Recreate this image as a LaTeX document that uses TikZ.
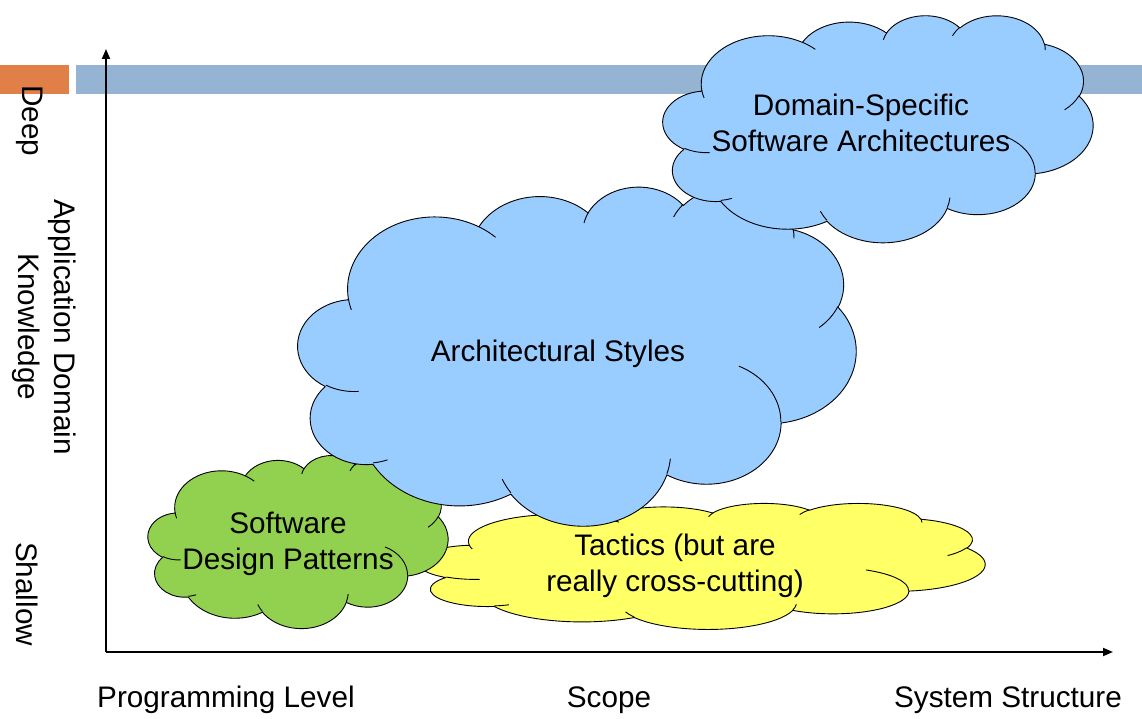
\documentclass[tikz,border=0pt]{standalone}
\usepackage{fontspec}
\setmainfont{Liberation Sans}
\usetikzlibrary{arrows.meta}
\definecolor{cloudblue}{RGB}{153,204,255}
\definecolor{cloudgreen}{RGB}{146,208,80}
\definecolor{cloudyellow}{RGB}{255,255,102}
\definecolor{barblue}{RGB}{149,179,210}
\definecolor{barorange}{RGB}{224,128,72}

% OOXML-style arcTo: x radius, y radius, start angle, sweep (visual angles)
\newcommand\ooArc[4]{%
  \pgfmathsetmacro\ooTA{atan2((#1)*sin(#3),(#2)*cos(#3))}%
  \pgfmathsetmacro\ooTB{atan2((#1)*sin((#3)+(#4)),(#2)*cos((#3)+(#4)))}%
  \pgfmathsetmacro\ooTE{\ooTA+mod(\ooTB-\ooTA+720,360)}%
  \pgfpatharc{\ooTA}{\ooTE}{#1pt and #2pt}%
}
% cloud: left, top, width, height, fill colour
\newcommand\ooCloud[5]{%
  \begin{pgfscope}%
  \pgfmathsetmacro\ooSX{(#3)/432}%
  \pgfmathsetmacro\ooSY{-(#4)/432}%
  \pgftransformshift{\pgfpoint{#1pt}{-#2pt}}%
  \pgftransformxscale{\ooSX}%
  \pgftransformyscale{\ooSY}%
  \pgfsetlinewidth{0.9pt}%
  \pgfsetroundjoin
  \pgfsetstrokecolor{black}%
  \pgfsetfillcolor{#5}%
  \pgfpathmoveto{\pgfpoint{39pt}{143.70pt}}%
  \ooArc{67.53}{91.90}{-190.4875}{123.7805}%
  \ooArc{53.33}{72.67}{-144.1024}{89.9452}%
  \ooArc{43.65}{59.45}{-145.8079}{99.7230}%
  \ooArc{48.57}{65.95}{-130.9861}{117.2417}%
  \ooArc{53.33}{72.73}{-78.7089}{109.0269}%
  \ooArc{67.75}{92.20}{-46.2673}{130.2690}%
  \ooArc{57.85}{78.67}{0.6250}{114.0333}%
  \ooArc{67.52}{92.15}{22.4516}{115.1726}%
  \ooArc{77.20}{105.43}{66.2426}{75.7110}%
  \ooArc{43.60}{59.18}{-274.9421}{146.7356}%
  \ooArc{43.45}{59.45}{-246.8285}{152.5189}%
  \pgfpathclose
  \pgfusepath{fill,stroke}%
  \pgfpathmoveto{\pgfpoint{46.93pt}{261.77pt}}\ooArc{43.45}{59.45}{86.7420}{26.4295}%
  \pgfpathmoveto{\pgfpoint{69.28pt}{348.99pt}}\ooArc{43.60}{59.18}{73.6105}{11.4475}%
  \pgfpathmoveto{\pgfpoint{164.78pt}{390.90pt}}\ooArc{67.52}{92.15}{137.6242}{14.0811}%
  \pgfpathmoveto{\pgfpoint{288.27pt}{347.51pt}}\ooArc{67.52}{92.15}{6.4533}{15.9984}%
  \pgfpathmoveto{\pgfpoint{341.29pt}{229.54pt}}\ooArc{57.85}{78.67}{-70.2924}{70.9174}%
  \pgfpathmoveto{\pgfpoint{417.98pt}{153.54pt}}\ooArc{53.33}{72.73}{30.3180}{27.7515}%
  \pgfpathmoveto{\pgfpoint{383.24pt}{54.26pt}}\ooArc{48.57}{65.95}{-13.7443}{14.8589}%
  \pgfpathmoveto{\pgfpoint{290.78pt}{39.52pt}}\ooArc{48.57}{65.95}{-149.1815}{18.1954}%
  \pgfpathmoveto{\pgfpoint{221.41pt}{47.20pt}}\ooArc{43.65}{59.45}{-163.4943}{17.6864}%
  \pgfpathmoveto{\pgfpoint{140.00pt}{51.92pt}}\ooArc{67.53}{91.90}{-66.7070}{12.3194}%
  \pgfpathmoveto{\pgfpoint{41.27pt}{157.89pt}}\ooArc{67.53}{91.90}{157.6544}{11.8582}%
  \pgfusepath{stroke}%
  \end{pgfscope}%
}

\tikzset{
  lbl/.style={font=\fontsize{29.7}{36}\selectfont, inner sep=0pt, align=center},
  axis/.style={line width=1.8pt, -{Triangle[length=10pt,width=8pt]}}
}

\begin{document}
\begin{tikzpicture}[x=1pt,y=-1pt]
\useasboundingbox (0,0) rectangle (1142,719);
\fill[white] (0,0) rectangle (1142,719);
% bars
\fill[barorange] (0,65) rectangle (69,94);
\fill[barblue] (76,65) rectangle (1142,94);
% axes
\coordinate (o) at (106,652);
\coordinate (ytip) at (106,49);
\coordinate (xtip) at (1113,652);
\draw[axis] (o) -- (ytip);
\draw[axis] (o) -- (xtip);
% clouds
\ooCloud{418}{503}{567}{126}{cloudyellow}
\ooCloud{148}{455}{300}{173}{cloudgreen}
\ooCloud{298}{186}{558}{339}{cloudblue}
\ooCloud{663}{15}{430}{227}{cloudblue}
% texts
\node[lbl] (dssa) at (861,123) {Domain-Specific\\Software Architectures};
\node[lbl] (arch) at (558,354) {Architectural Styles};
\node[lbl] (sdp) at (288,544) {Software\\Design Patterns};
\node[lbl] (tac) at (675,566) {Tactics (but are\\really cross-cutting)};
\node[lbl] (prog) at (226,700) {Programming Level};
\node[lbl] (scope) at (609,700) {Scope};
\node[lbl] (sys) at (1008,700) {System Structure};
\node[lbl, rotate=-90] (deep) at (30,121) {Deep};
\node[lbl, rotate=-90] (adk) at (44,327) {Application Domain\\Knowledge};
\node[lbl, rotate=-90] (shallow) at (27,594) {Shallow};
\end{tikzpicture}
\end{document}
